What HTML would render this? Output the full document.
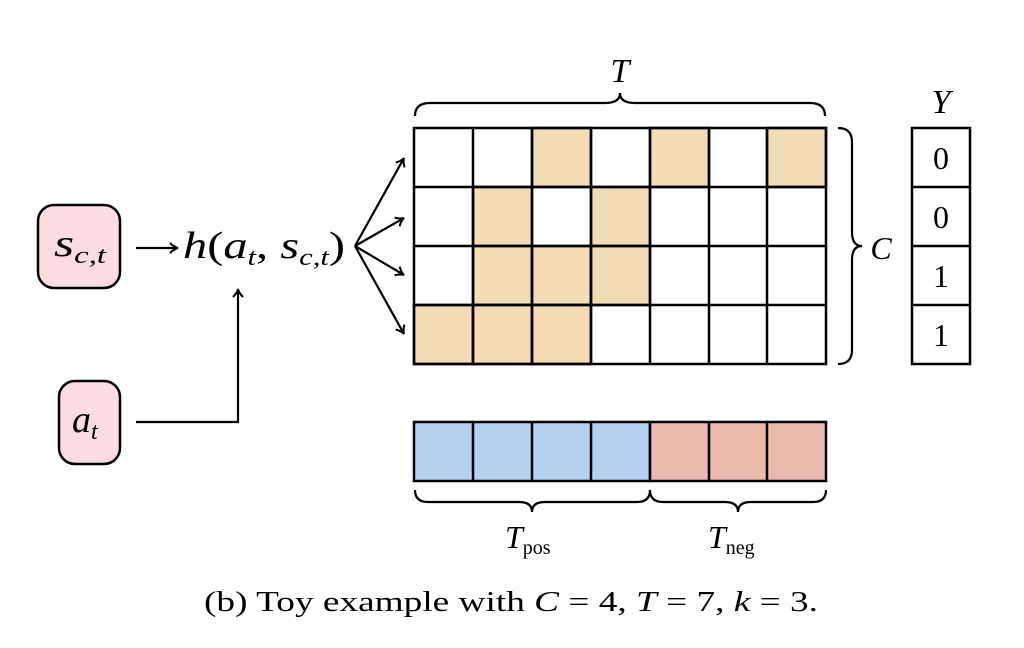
<!DOCTYPE html>
<html><head><style>
body{margin:0;background:#fff;width:1024px;height:648px;overflow:hidden}
svg{display:block}
.m{font-family:"Liberation Serif",serif;font-style:italic}
.r{font-family:"Liberation Serif",serif}
</style></head><body>
<svg width="1024" height="648" viewBox="0 0 1024 648">
<defs><marker id="ah" markerWidth="12" markerHeight="12" refX="10" refY="6" orient="auto" markerUnits="userSpaceOnUse"><path d="M2,1 Q6,5 10,6 Q6,7 2,11" fill="none" stroke="#000" stroke-width="2"/></marker></defs>
<rect x="38" y="205" width="82" height="83" rx="16" fill="#fbdde1" stroke="#000" stroke-width="2.5"/>
<text x="54" y="256" class="m" font-size="38" textLength="52" lengthAdjust="spacingAndGlyphs">s<tspan font-size="24" dy="7">c,t</tspan></text>
<rect x="59" y="381" width="61" height="83" rx="16" fill="#fbdde1" stroke="#000" stroke-width="2.5"/>
<text x="72" y="432" class="m" font-size="38">a<tspan font-size="24" dy="7">t</tspan></text>
<line x1="136" y1="248" x2="178" y2="248" stroke="#000" stroke-width="2.2" marker-end="url(#ah)"/>
<text x="183" y="258" class="m" font-size="38" textLength="162" lengthAdjust="spacingAndGlyphs">h<tspan class="r" font-style="normal">(</tspan>a<tspan font-size="24" dy="7">t</tspan><tspan dy="-7" class="r" font-style="normal">, </tspan>s<tspan font-size="24" dy="7">c,t</tspan><tspan dy="-7" class="r" font-style="normal">)</tspan></text>
<polyline points="136,422 238,422 238,289" fill="none" stroke="#000" stroke-width="2.2" marker-end="url(#ah)"/>
<g stroke="#000" stroke-width="2.2" fill="none">
<line x1="355" y1="246" x2="404" y2="158" marker-end="url(#ah)"/>
<line x1="355" y1="246" x2="404" y2="218" marker-end="url(#ah)"/>
<line x1="355" y1="246" x2="404" y2="275" marker-end="url(#ah)"/>
<line x1="355" y1="246" x2="404" y2="334" marker-end="url(#ah)"/>
</g>
<g stroke="#000" stroke-width="2.5">
<g fill="#f2dcb4">
<rect x="532" y="128" width="59" height="59"/><rect x="650" y="128" width="59" height="59"/><rect x="767" y="128" width="59" height="59"/>
<rect x="473" y="187" width="59" height="59"/><rect x="591" y="187" width="59" height="59"/>
<rect x="473" y="246" width="59" height="59"/><rect x="532" y="246" width="59" height="59"/><rect x="591" y="246" width="59" height="59"/>
<rect x="414" y="305" width="59" height="59"/><rect x="473" y="305" width="59" height="59"/><rect x="532" y="305" width="59" height="59"/>
</g>
<rect x="414" y="128" width="412" height="236" fill="none"/>
<path d="M473,128V364M532,128V364M591,128V364M650,128V364M709,128V364M767,128V364M414,187H826M414,246H826M414,305H826" fill="none"/>
<rect x="414" y="422" width="236" height="59" fill="#b4d1ef"/>
<rect x="650" y="422" width="176" height="59" fill="#ebb8ae"/>
<path d="M473,422V481M532,422V481M591,422V481M709,422V481M767,422V481" fill="none"/>
<rect x="912" y="128" width="58" height="236" fill="#fff"/>
<path d="M912,187H970M912,246H970M912,305H970" fill="none"/>
</g>
<g stroke="#000" stroke-width="2.2" fill="none">
<path d="M415,116 Q415,103 430,103 L605,103 Q620,103 620,93 Q620,103 635,103 L810,103 Q825,103 825,116"/>
<path d="M838,128 Q852,128 852,142 L852,232 Q852,246 862,246 Q852,246 852,260 L852,350 Q852,364 838,364"/>
<path d="M415,490 Q415,502 428,502 L519,502 Q532,502 532,512 Q532,502 545,502 L637,502 Q650,502 650,490 Q650,502 663,502 L725,502 Q738,502 738,512 Q738,502 751,502 L813,502 Q826,502 826,490"/>
</g>
<text x="620" y="82" class="m" font-size="34" text-anchor="middle">T</text>
<text x="941" y="113" class="m" font-size="34" text-anchor="middle">Y</text>
<text x="881" y="259" class="m" font-size="32" text-anchor="middle">C</text>
<g class="r" font-size="32" text-anchor="middle">
<text x="941" y="169">0</text><text x="941" y="228">0</text><text x="941" y="287">1</text><text x="941" y="346">1</text>
</g>
<text x="505" y="548" class="m" font-size="32">T<tspan class="r" font-style="normal" font-size="20" dy="6">pos</tspan></text>
<text x="708" y="548" class="m" font-size="32">T<tspan class="r" font-style="normal" font-size="20" dy="6">neg</tspan></text>
<text x="204" y="611" class="r" font-size="28" textLength="614" lengthAdjust="spacingAndGlyphs">(b) Toy example with <tspan class="m">C</tspan> = 4, <tspan class="m">T</tspan> = 7, <tspan class="m">k</tspan> = 3.</text>
</svg>
</body></html>
